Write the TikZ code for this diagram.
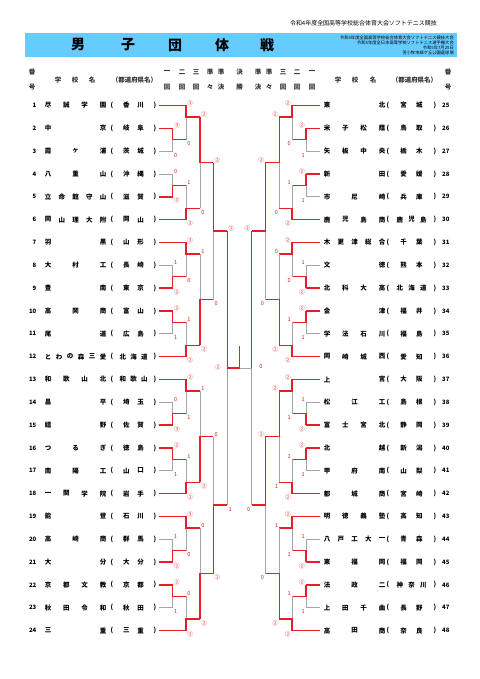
\documentclass[tikz,border=0pt]{standalone}
\usepackage{fontspec}
\setmainfont{Noto Sans CJK JP}
\definecolor{wr}{RGB}{230,30,40}
\definecolor{lg}{RGB}{165,165,165}
\definecolor{barc}{RGB}{102,204,255}
\tikzset{
 win/.style={draw=wr,line width=1.4bp},
 lose/.style={draw=lg,line width=0.7bp},
 sc/.style={text=wr,font=\fontsize{5.6}{5.6}\selectfont,inner sep=0pt},
 nm/.style={font=\bfseries\fontsize{6.5}{6.5}\selectfont,inner sep=0pt},
 num/.style={font=\bfseries\fontsize{6}{6}\selectfont,inner sep=0pt},
 hd/.style={font=\bfseries\fontsize{6.5}{6.5}\selectfont,inner sep=0pt,text=black!80},
 ttl/.style={font=\bfseries\fontsize{14}{14}\selectfont,inner sep=0pt},
 small/.style={font=\fontsize{4.3}{4.3}\selectfont,inner sep=0pt,anchor=east},
}
\newcount\scn
\newcommand\yk[1]{(105.5+(#1)*11.415)}
% match, left side: xv, xnext, kTop, kBot, kMid, winner t/b, top label, bottom label
\newcommand\LM[8]{%
  \if t#6
    \draw[lose] ({#1},{\yk{#5}}) -- ({#1},{\yk{#4}});
    \draw[win] ({#1},{\yk{#3}}) -- ({#1},{\yk{#5}}) -- ({#2},{\yk{#5}});
  \else
    \draw[lose] ({#1},{\yk{#5}}) -- ({#1},{\yk{#3}});
    \draw[win] ({#1},{\yk{#4}}) -- ({#1},{\yk{#5}}) -- ({#2},{\yk{#5}});
  \fi
  \global\advance\scn by 1
  \node[sc,anchor=west] (sc\the\scn) at ({#1+1.2},{\yk{#3}-2.5}) {#7};
  \global\advance\scn by 1
  \node[sc,anchor=west] (sc\the\scn) at ({#1+1.2},{\yk{#4}+4}) {#8};
}
\newcommand\RM[8]{%
  \if t#6
    \draw[lose] ({#1},{\yk{#5}}) -- ({#1},{\yk{#4}});
    \draw[win] ({#1},{\yk{#3}}) -- ({#1},{\yk{#5}}) -- ({#2},{\yk{#5}});
  \else
    \draw[lose] ({#1},{\yk{#5}}) -- ({#1},{\yk{#3}});
    \draw[win] ({#1},{\yk{#4}}) -- ({#1},{\yk{#5}}) -- ({#2},{\yk{#5}});
  \fi
  \global\advance\scn by 1
  \node[sc,anchor=east] (sc\the\scn) at ({#1-1.2},{\yk{#3}-2.5}) {#7};
  \global\advance\scn by 1
  \node[sc,anchor=east] (sc\the\scn) at ({#1-1.2},{\yk{#4}+4}) {#8};
}
\newcommand\LT[3]{\draw[#3] (159,{\yk{#1}}) -- ({#2},{\yk{#1}});}
\newcommand\RT[3]{\draw[#3] (320,{\yk{#1}}) -- ({#2},{\yk{#1}});}
% distributed text
\newcommand\dist[6]{\foreach \ch [count=\i from 0] in {#6}{\node[nm] (#1-\i) at ({#2+\i*(#3-#2)/(#5-1)},{#4}) {\ch};}}
\newcommand\distin[6]{\foreach \ch [count=\i from 1] in {#6}{\node[nm] (#1-\i) at ({#2+\i*(#3-#2)/(#5+1)},{#4}) {\ch};}}
\newcommand\LTeam[5]{%
  \node[num,anchor=east] (ln#1) at (36.5,{105.5+(#1-1)*22.83}) {#1};
  \dist{la#1}{48}{103}{105.5+(#1-1)*22.83}{#2}{#3}
  \node[nm] (lo#1) at (112,{105.5+(#1-1)*22.83}) {(};
  \node[nm] (lc#1) at (155,{105.5+(#1-1)*22.83}) {)};
  \distin{lp#1}{112}{155}{105.5+(#1-1)*22.83}{#4}{#5}
}
\newcommand\RTeam[5]{%
  \node[num,anchor=west] (rn#1) at (442,{105.5+(#1-25)*22.83}) {#1};
  \dist{ra#1}{327}{382}{105.5+(#1-25)*22.83}{#2}{#3}
  \node[nm] (ro#1) at (388,{105.5+(#1-25)*22.83}) {(};
  \node[nm] (rc#1) at (435,{105.5+(#1-25)*22.83}) {)};
  \distin{rp#1}{388}{435}{105.5+(#1-25)*22.83}{#4}{#5}
}
\begin{document}
\begin{tikzpicture}[x=1bp,y=-1bp]
\useasboundingbox[fill=white] (0,0) rectangle (480,679);
% ---------- header ----------
\node[font=\fontsize{6}{6}\selectfont,inner sep=0pt,anchor=east] (top) at (437,23) {令和4年度全国高等学校総合体育大会ソフトテニス競技};
\fill[barc] (25,33) rectangle (457,57);
\node[ttl] (t1) at (78,45) {男};
\node[ttl] (t2) at (128,45) {子};
\node[ttl] (t3) at (175,45) {団};
\node[ttl] (t4) at (222,45) {体};
\node[ttl] (t5) at (267,45) {戦};
\node[small] (b1) at (454,37.7) {令和5年度全国高等学校総合体育大会ソフトテニス競技大会};
\node[small] (b2) at (454,42.7) {令和5年度全日本高等学校ソフトテニス選手権大会};
\node[small] (b3) at (454,47.7) {令和5年7月25日};
\node[small] (b4) at (454,52.4) {苫小牧市緑ケ丘公園庭球場};
% column heads
\node[hd] (hl1) at (32,72) {番};
\node[hd] (hl2) at (32,87) {号};
\node[hd] (hl3) at (58,80) {学};
\node[hd] (hl4) at (75,80) {校};
\node[hd] (hl5) at (92,80) {名};
\node[hd] (hl6) at (134.5,80) {（都道府県名）};
\node[hd] (hr1) at (448,72) {番};
\node[hd] (hr2) at (448,87) {号};
\node[hd] (hr3) at (338,80) {学};
\node[hd] (hr4) at (355,80) {校};
\node[hd] (hr5) at (373,80) {名};
\node[hd] (hr6) at (414.5,80) {（都道府県名）};
\foreach \xx/\a/\b [count=\j] in {167/一/回,182/二/回,196/三/回,210/準/々,221/準/決,239.5/決/勝,258/準/決,269/準/々,283/三/回,297/二/回,312/一/回}{
  \node[hd] (ra\j) at (\xx,72) {\a};
  \node[hd] (rb\j) at (\xx,87) {\b};
}
% ---------- team names ----------
\LTeam{1}{4}{尽,誠,学,園}{2}{香,川}
\LTeam{2}{2}{中,京}{2}{岐,阜}
\LTeam{3}{3}{霞,ヶ,浦}{2}{茨,城}
\LTeam{4}{3}{八,重,山}{2}{沖,縄}
\LTeam{5}{5}{立,命,館,守,山}{2}{滋,賀}
\LTeam{6}{5}{岡,山,理,大,附}{2}{岡,山}
\LTeam{7}{2}{羽,黒}{2}{山,形}
\LTeam{8}{3}{大,村,工}{2}{長,崎}
\LTeam{9}{2}{豊,南}{2}{東,京}
\LTeam{10}{3}{高,岡,商}{2}{富,山}
\LTeam{11}{2}{尾,道}{2}{広,島}
\LTeam{12}{6}{と,わ,の,森,三,愛}{3}{北,海,道}
\LTeam{13}{4}{和,歌,山,北}{3}{和,歌,山}
\LTeam{14}{2}{昌,平}{2}{埼,玉}
\LTeam{15}{2}{嬉,野}{2}{佐,賀}
\LTeam{16}{3}{つ,る,ぎ}{2}{徳,島}
\LTeam{17}{3}{南,陽,工}{2}{山,口}
\LTeam{18}{4}{一,関,学,院}{2}{岩,手}
\LTeam{19}{2}{能,登}{2}{石,川}
\LTeam{20}{3}{高,崎,商}{2}{群,馬}
\LTeam{21}{2}{大,分}{2}{大,分}
\LTeam{22}{4}{京,都,文,教}{2}{京,都}
\LTeam{23}{4}{秋,田,令,和}{2}{秋,田}
\LTeam{24}{2}{三,重}{2}{三,重}
\RTeam{25}{2}{東,北}{2}{宮,城}
\RTeam{26}{4}{米,子,松,蔭}{2}{鳥,取}
\RTeam{27}{4}{矢,板,中,央}{2}{栃,木}
\RTeam{28}{2}{新,田}{2}{愛,媛}
\RTeam{29}{3}{市,尼,崎}{2}{兵,庫}
\RTeam{30}{4}{鹿,児,島,商}{3}{鹿,児,島}
\RTeam{31}{5}{木,更,津,総,合}{2}{千,葉}
\RTeam{32}{2}{文,徳}{2}{熊,本}
\RTeam{33}{4}{北,科,大,高}{3}{北,海,道}
\RTeam{34}{2}{金,津}{2}{福,井}
\RTeam{35}{4}{学,法,石,川}{2}{福,島}
\RTeam{36}{4}{岡,崎,城,西}{2}{愛,知}
\RTeam{37}{2}{上,宮}{2}{大,阪}
\RTeam{38}{3}{松,江,工}{2}{島,根}
\RTeam{39}{4}{富,士,宮,北}{2}{静,岡}
\RTeam{40}{2}{北,越}{2}{新,潟}
\RTeam{41}{3}{甲,府,南}{2}{山,梨}
\RTeam{42}{3}{都,城,商}{2}{宮,崎}
\RTeam{43}{4}{明,徳,義,塾}{2}{高,知}
\RTeam{44}{5}{八,戸,工,大,一}{2}{青,森}
\RTeam{45}{3}{東,福,岡}{2}{福,岡}
\RTeam{46}{3}{法,政,二}{3}{神,奈,川}
\RTeam{47}{4}{上,田,千,曲}{2}{長,野}
\RTeam{48}{3}{高,田,商}{2}{奈,良}
% ---------- left bracket ----------
% team lines
\LT{0}{186}{win}\LT{2}{172.7}{win}\LT{4}{172.7}{lose}\LT{6}{172.7}{lose}\LT{8}{172.7}{win}\LT{10}{186}{win}
\LT{12}{186}{win}\LT{14}{172.7}{lose}\LT{16}{172.7}{win}\LT{18}{172.7}{win}\LT{20}{172.7}{lose}\LT{22}{186}{win}
\LT{24}{186}{win}\LT{26}{172.7}{lose}\LT{28}{172.7}{win}\LT{30}{172.7}{win}\LT{32}{172.7}{lose}\LT{34}{186}{win}
\LT{36}{186}{win}\LT{38}{172.7}{lose}\LT{40}{172.7}{win}\LT{42}{172.7}{win}\LT{44}{172.7}{lose}\LT{46}{186}{win}
% block 1
\LM{172.7}{186}{2}{4}{3}{t}{③}{0}
\LM{186}{200}{0}{3}{1}{t}{③}{0}
\LM{172.7}{186}{6}{8}{7}{b}{0}{③}
\LM{186}{200}{7}{10}{9}{b}{1}{②}
\LM{200}{213.3}{1}{9}{5}{t}{②}{0}
% block 2
\LM{172.7}{186}{14}{16}{15}{b}{1}{②}
\LM{186}{200}{12}{15}{13}{t}{③}{0}
\LM{172.7}{186}{18}{20}{19}{t}{②}{1}
\LM{186}{200}{19}{22}{21}{b}{1}{②}
\LM{200}{213.3}{13}{21}{17}{b}{1}{②}
\LM{213.3}{227.3}{5}{17}{11}{t}{②}{0}
% block 3
\LM{172.7}{186}{26}{28}{27}{b}{0}{③}
\LM{186}{200}{24}{27}{25}{t}{②}{1}
\LM{172.7}{186}{30}{32}{31}{t}{②}{1}
\LM{186}{200}{31}{34}{33}{b}{1}{②}
\LM{200}{213.3}{25}{33}{29}{b}{1}{②}
% block 4
\LM{172.7}{186}{38}{40}{39}{b}{1}{②}
\LM{186}{200}{36}{39}{37}{t}{③}{0}
\LM{172.7}{186}{42}{44}{43}{t}{②}{1}
\LM{186}{200}{43}{46}{45}{b}{0}{③}
\LM{200}{213.3}{37}{45}{41}{b}{0}{②}
\LM{213.3}{227.3}{29}{41}{35}{b}{0}{②}
% semifinal left
\LM{227.3}{239.5}{11}{35}{23}{t}{②}{1}
% ---------- right bracket ----------
\RT{0}{292}{win}\RT{2}{306}{win}\RT{4}{306}{lose}\RT{6}{306}{win}\RT{8}{306}{lose}\RT{10}{292}{win}
\RT{12}{292}{win}\RT{14}{306}{lose}\RT{16}{306}{win}\RT{18}{306}{win}\RT{20}{306}{lose}\RT{22}{292}{win}
\RT{24}{292}{win}\RT{26}{306}{lose}\RT{28}{306}{win}\RT{30}{306}{win}\RT{32}{306}{lose}\RT{34}{292}{win}
\RT{36}{292}{win}\RT{38}{306}{lose}\RT{40}{306}{win}\RT{42}{306}{win}\RT{44}{306}{lose}\RT{46}{292}{win}
% block 1
\RM{306}{292}{2}{4}{3}{t}{②}{1}
\RM{292}{279.3}{0}{3}{1}{t}{②}{0}
\RM{306}{292}{6}{8}{7}{t}{②}{1}
\RM{292}{279.3}{7}{10}{9}{b}{1}{②}
\RM{279.3}{265.3}{1}{9}{5}{t}{②}{0}
% block 2
\RM{306}{292}{14}{16}{15}{b}{1}{②}
\RM{292}{279.3}{12}{15}{13}{t}{②}{0}
\RM{306}{292}{18}{20}{19}{t}{②}{1}
\RM{292}{279.3}{19}{22}{21}{b}{1}{②}
\RM{279.3}{265.3}{13}{21}{17}{b}{0}{②}
\RM{265.3}{251.7}{5}{17}{11}{t}{②}{0}
% block 3
\RM{306}{292}{26}{28}{27}{b}{1}{②}
\RM{292}{279.3}{24}{27}{25}{t}{②}{1}
\RM{306}{292}{30}{32}{31}{t}{②}{1}
\RM{292}{279.3}{31}{34}{33}{b}{1}{②}
\RM{279.3}{265.3}{25}{33}{29}{t}{②}{1}
% block 4
\RM{306}{292}{38}{40}{39}{b}{1}{②}
\RM{292}{279.3}{36}{39}{37}{t}{②}{1}
\RM{306}{292}{42}{44}{43}{t}{②}{1}
\RM{292}{279.3}{43}{46}{45}{b}{1}{②}
\RM{279.3}{265.3}{37}{45}{41}{b}{1}{②}
\RM{265.3}{251.7}{29}{41}{35}{t}{②}{0}
% semifinal right and final
\draw[lose] (251.7,{\yk{23}}) -- (251.7,{\yk{35}});
\draw[lose] (251.7,{\yk{23}}) -- (239.5,{\yk{23}});
\draw[win] (251.7,{\yk{11}}) -- (251.7,{\yk{23}});
\draw[win] (239.5,{\yk{23}}) -- (239.5,346);
\node[sc,anchor=east] (sfr1) at (250.5,{\yk{11}-2.5}) {②};
\node[sc,anchor=east] (sfr2) at (250.5,{\yk{35}+4}) {0};
\node[sc] (fl) at (218,367) {②};
\node[sc] (fr) at (261,367) {0};
\end{tikzpicture}
\end{document}
